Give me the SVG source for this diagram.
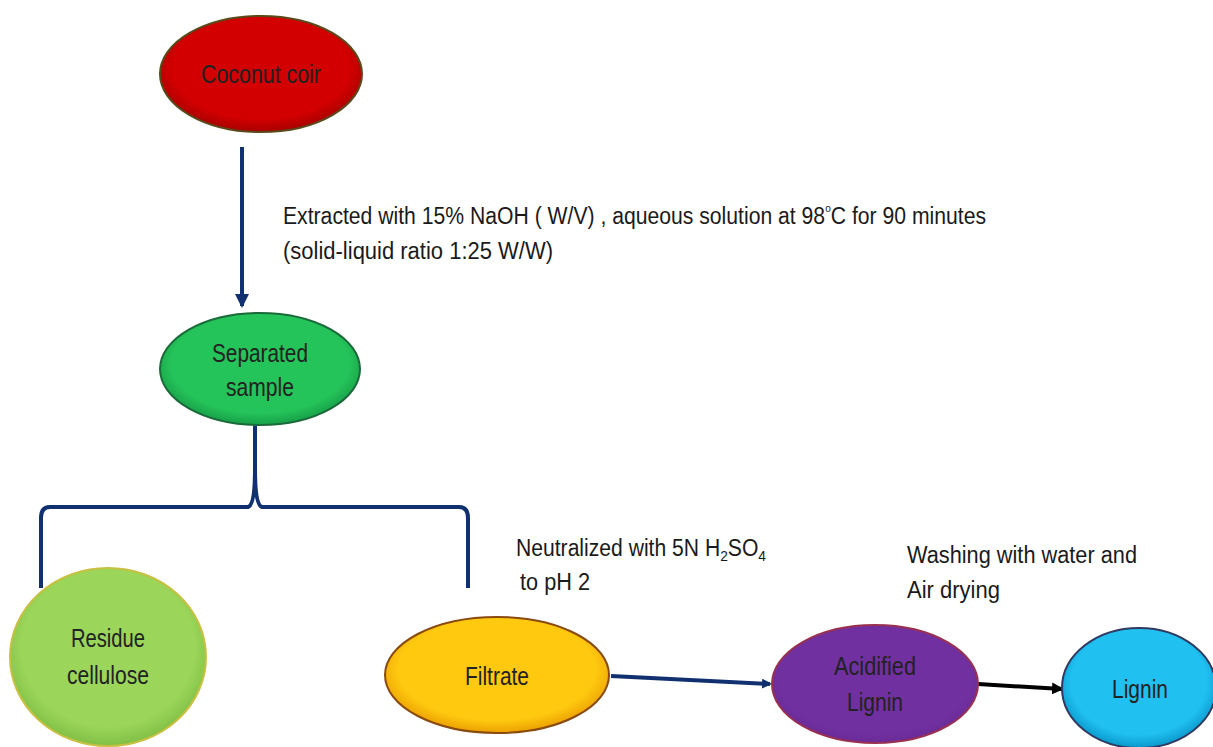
<svg xmlns="http://www.w3.org/2000/svg" width="1213" height="747" viewBox="0 0 1213 747">
<defs>
<radialGradient id="gRed" cx="50%" cy="45%" r="55%"><stop offset="80%" stop-color="#d20000"/><stop offset="100%" stop-color="#a80000"/></radialGradient>
<radialGradient id="gGreen" cx="50%" cy="45%" r="55%"><stop offset="80%" stop-color="#25c45a"/><stop offset="100%" stop-color="#17a048"/></radialGradient>
<radialGradient id="gLime" cx="50%" cy="45%" r="55%"><stop offset="80%" stop-color="#9bd65a"/><stop offset="100%" stop-color="#80bf45"/></radialGradient>
<radialGradient id="gYellow" cx="50%" cy="45%" r="55%"><stop offset="80%" stop-color="#ffc910"/><stop offset="100%" stop-color="#eba000"/></radialGradient>
<radialGradient id="gPurple" cx="50%" cy="45%" r="55%"><stop offset="85%" stop-color="#7030a0"/><stop offset="100%" stop-color="#6a2a96"/></radialGradient>
<radialGradient id="gBlue" cx="50%" cy="45%" r="55%"><stop offset="80%" stop-color="#20c0f0"/><stop offset="100%" stop-color="#0a98cc"/></radialGradient>
<marker id="arrNavy" markerWidth="10" markerHeight="10" refX="8" refY="5" orient="auto" markerUnits="userSpaceOnUse"><path d="M0,0 L10,5 L0,10 Z" fill="#10306f"/></marker>
<marker id="arrNavyV" markerWidth="14" markerHeight="16" refX="12" refY="7" orient="auto" markerUnits="userSpaceOnUse"><path d="M0,0 L14,7 L0,14 Z" fill="#10306f"/></marker>
<marker id="arrBlack" markerWidth="12" markerHeight="12" refX="10" refY="6" orient="auto" markerUnits="userSpaceOnUse"><path d="M0,0 L12,6 L0,12 Z" fill="#000"/></marker>
</defs>
<style>
text{font-family:"Liberation Sans","Open Sans",Arial,sans-serif;}
.lbl{font-size:23px;fill:#1a1a1a;}
.nd{font-size:25px;fill:#222;text-anchor:middle;}
.conn{fill:none;stroke:#10306f;stroke-width:4;}
</style>
<rect width="1213" height="747" fill="#fff"/>
<g id="connectors">
<line class="conn" x1="242" y1="147" x2="242" y2="306" marker-end="url(#arrNavyV)"/>
<path class="conn" d="M255,426 L255,468 Q255,505 248,507 L50,507 Q41,507 41,518 L41,588"/>
<path class="conn" d="M255,468 Q255,505 262,507 L459,507 Q468,507 468,518 L468,588"/>
<line class="conn" x1="611" y1="676" x2="770" y2="684" stroke-width="3" marker-end="url(#arrNavy)"/>
<line x1="978" y1="684" x2="1062" y2="689" stroke="#000" stroke-width="4" marker-end="url(#arrBlack)"/>
</g>
<g id="node-coconut">
<ellipse cx="261" cy="74" rx="101" ry="58" fill="url(#gRed)" stroke="#5a4a1a" stroke-width="2"/>
<text class="nd" x="261" y="83" textLength="120" lengthAdjust="spacingAndGlyphs">Coconut coir</text>
</g>
<g id="node-separated">
<ellipse cx="260" cy="369" rx="100" ry="56" fill="url(#gGreen)" stroke="#1a6a3a" stroke-width="2"/>
<text class="nd" x="260" y="362" textLength="96" lengthAdjust="spacingAndGlyphs">Separated</text>
<text class="nd" x="260" y="396" textLength="68" lengthAdjust="spacingAndGlyphs">sample</text>
</g>
<g id="node-residue">
<ellipse cx="108" cy="657" rx="98" ry="89" fill="url(#gLime)" stroke="#c8c040" stroke-width="2"/>
<text class="nd" x="108" y="647" textLength="74" lengthAdjust="spacingAndGlyphs">Residue</text>
<text class="nd" x="108" y="684" textLength="82" lengthAdjust="spacingAndGlyphs">cellulose</text>
</g>
<g id="node-filtrate">
<ellipse cx="497" cy="675" rx="112" ry="58" fill="url(#gYellow)" stroke="#8a4a10" stroke-width="2"/>
<text class="nd" x="497" y="685" textLength="64" lengthAdjust="spacingAndGlyphs">Filtrate</text>
</g>
<g id="node-acidified">
<ellipse cx="875" cy="684" rx="103" ry="59" fill="url(#gPurple)" stroke="#9a3050" stroke-width="2"/>
<text class="nd" x="875" y="675" textLength="82" lengthAdjust="spacingAndGlyphs">Acidified</text>
<text class="nd" x="875" y="711" textLength="56" lengthAdjust="spacingAndGlyphs">Lignin</text>
</g>
<g id="node-lignin">
<ellipse cx="1139" cy="688" rx="77" ry="60" fill="url(#gBlue)" stroke="#303a60" stroke-width="2"/>
<text class="nd" x="1140" y="698" textLength="56" lengthAdjust="spacingAndGlyphs">Lignin</text>
</g>
<g id="labels">
<text class="lbl" x="283" y="224" textLength="703" lengthAdjust="spacingAndGlyphs">Extracted with 15% NaOH ( W/V) , aqueous solution at 98<tspan font-size="11" dy="-12">o</tspan><tspan dy="12">C for 90 minutes</tspan></text>
<text class="lbl" x="283" y="259" textLength="270" lengthAdjust="spacingAndGlyphs">(solid-liquid ratio 1:25 W/W)</text>
<text class="lbl" x="516" y="556" textLength="250" lengthAdjust="spacingAndGlyphs">Neutralized with 5N H<tspan font-size="15" dy="5">2</tspan><tspan dy="-5">SO</tspan><tspan font-size="15" dy="5">4</tspan></text>
<text class="lbl" x="520" y="590" textLength="70" lengthAdjust="spacingAndGlyphs">to pH 2</text>
<text class="lbl" x="907" y="563" textLength="230" lengthAdjust="spacingAndGlyphs">Washing with water and</text>
<text class="lbl" x="907" y="598" textLength="93" lengthAdjust="spacingAndGlyphs">Air drying</text>
</g>
</svg>
